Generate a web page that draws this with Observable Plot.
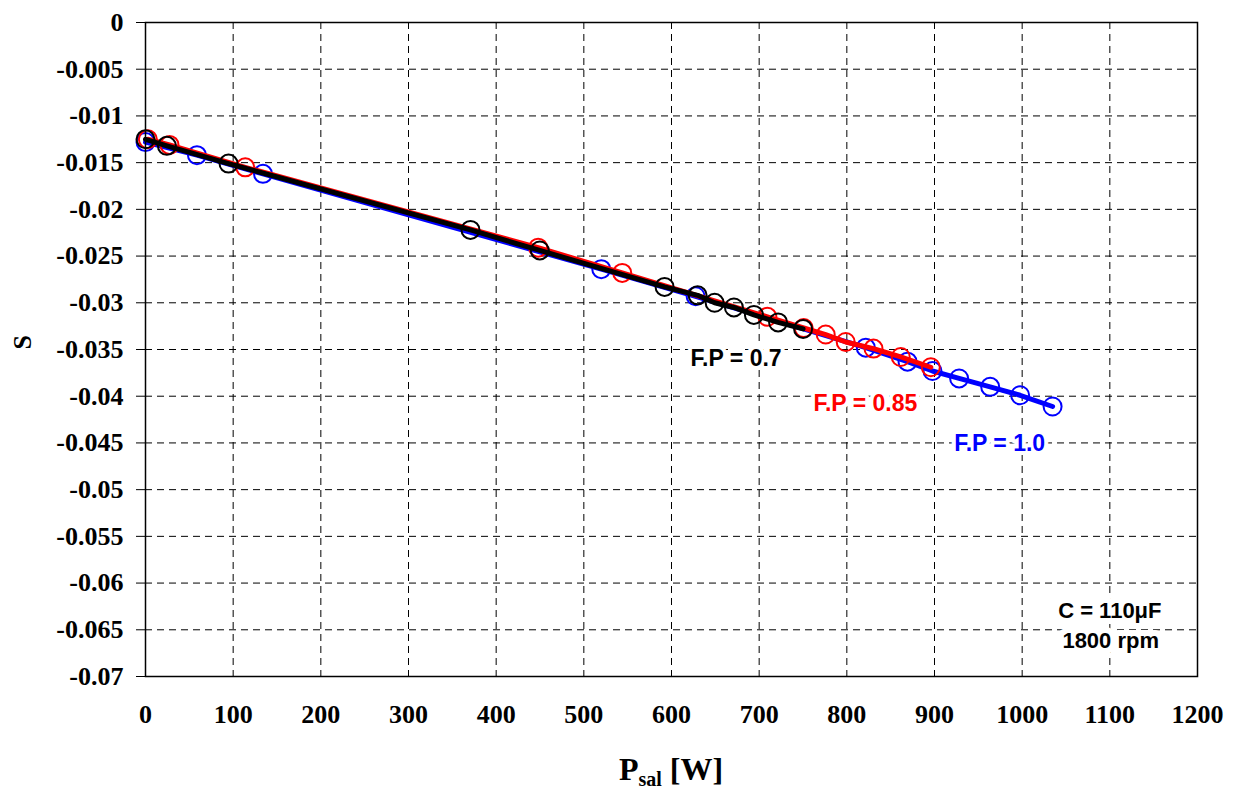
<!DOCTYPE html>
<html><head><meta charset="utf-8">
<script src="https://cdn.jsdelivr.net/npm/d3@7"></script>
<script src="https://cdn.jsdelivr.net/npm/@observablehq/plot@0.6"></script>
<style>
body{margin:0;background:#fff}
#chart svg{background:#fff;color:#000}
</style>
</head><body><div id="chart"></div>
<script>
// F.P = 1.0 (blue)
const pBlue = [0, 58.7, 134, 519.9, 627.5, 821.6, 869.2, 897.7, 928.1, 963.5, 997.7, 1034.7];
const sBlue = [-0.0128, -0.0142, -0.0162, -0.0264, -0.0293, -0.0348, -0.0363, -0.0373, -0.0381, -0.0390, -0.0399, -0.0411];
// F.P = 0.85 (red)
const pRed = [2.7, 27.4, 113.8, 447.9, 543.8, 709.4, 750.8, 775.9, 798.7, 830.4, 861.5, 895.8];
const sRed = [-0.0125, -0.0131, -0.0155, -0.0241, -0.0268, -0.0315, -0.0327, -0.0334, -0.0342, -0.0349, -0.0358, -0.0369];
// F.P = 0.7 (black)
const pBlack = [0, 24.4, 94.7, 370.7, 449.8, 592.1, 629.8, 649.2, 671.2, 694.0, 721.6, 750.1];
const sBlack = [-0.0125, -0.0132, -0.0151, -0.0222, -0.0244, -0.0283, -0.0292, -0.0300, -0.0305, -0.0313, -0.0321, -0.0328];

const seriesNames = ["F.P = 1.0", "F.P = 0.85", "F.P = 0.7"];
const seriesColors = ["#0000ff", "#ff0000", "#000000"];
const labelP = [922.4, 761.9, 621.8];
const labelS = [-0.0451, -0.0408, -0.0360];

const xTicks = [0, 100, 200, 300, 400, 500, 600, 700, 800, 900, 1000, 1100, 1200];
const yTicks = [0, -0.005, -0.01, -0.015, -0.02, -0.025, -0.03, -0.035, -0.04, -0.045, -0.05, -0.055, -0.06, -0.065, -0.07];
const noteLines = ["C = 110\u03bcF", "1800 rpm"];
const noteP = [1100, 1101];
const noteS = [-0.0630, -0.0662];
const yLabel = "S";

const mk = (ps, ss) => ps.map((p, i) => ({p, s: ss[i]}));
const series = [mk(pBlue, sBlue), mk(pRed, sRed), mk(pBlack, sBlack)];
const labels = seriesNames.map((n, i) => ({n, p: labelP[i], s: labelS[i], c: seriesColors[i]}));
const notes = noteLines.map((t, i) => ({t, p: noteP[i], s: noteS[i]}));

const dash = "7,5";
const yFmt = d => String(+d.toFixed(3));

const marks = [
  Plot.gridX(xTicks, {x: d => d, stroke: "#000", strokeOpacity: 1, strokeWidth: 1, strokeDasharray: dash}),
  Plot.gridY(yTicks, {y: d => d, stroke: "#000", strokeOpacity: 1, strokeWidth: 1, strokeDasharray: dash}),
  Plot.axisY(yTicks, {tickSize: 9, tickFormat: () => "", label: null, stroke: "#000"}),
  Plot.text(yTicks, {y: d => d, text: yFmt, frameAnchor: "left", dx: -22, textAnchor: "end",
    fontFamily: "Liberation Serif", fontSize: 26, fontWeight: "bold", fill: "#000"}),
  Plot.text(xTicks, {x: d => d, text: d => String(d), frameAnchor: "bottom", dy: 46,
    fontFamily: "Liberation Serif", fontSize: 26, fontWeight: "bold", fill: "#000"}),
  Plot.text([yLabel], {text: d => d, frameAnchor: "left", dx: -123, rotate: -90,
    fontFamily: "Liberation Serif", fontSize: 26, fontWeight: "bold", fill: "#000"}),
  Plot.text(labels, {x: "p", y: "s", text: "n", fill: "c", textAnchor: "start",
    fontFamily: "Liberation Sans", fontSize: 23, fontWeight: "bold",
    stroke: "white", strokeWidth: 8, paintOrder: "stroke"}),
  Plot.text(notes, {x: "p", y: "s", text: "t", fill: "#000", textAnchor: "middle",
    fontFamily: "Liberation Sans", fontSize: 22, fontWeight: "bold",
    stroke: "white", strokeWidth: 12, paintOrder: "stroke"})
];
series.forEach((d, i) => {
  marks.push(Plot.line(d, {x: "p", y: "s", stroke: seriesColors[i], strokeWidth: 5, curve: "linear"}));
  marks.push(Plot.dot(d, {x: "p", y: "s", r: 9, stroke: seriesColors[i], strokeWidth: 2, fill: "none"}));
});
marks.push(Plot.frame({stroke: "#000", strokeWidth: 1.5}));

const chart = Plot.plot({
  width: 1237, height: 791,
  marginLeft: 145, marginRight: 40, marginTop: 22, marginBottom: 115,
  x: {domain: [0, 1200], axis: null},
  y: {domain: [-0.07, 0]},
  marks
});
document.getElementById("chart").appendChild(chart);

// reinforce fonts directly on the text elements
const serifTexts = new Set([...yTicks.map(yFmt), ...xTicks.map(String), yLabel]);
chart.querySelectorAll("text").forEach(el => {
  const s = el.textContent;
  if (serifTexts.has(s)) {
    el.style.fontFamily = "'Liberation Serif', 'Times New Roman', serif";
    el.style.fontWeight = "bold";
  }
});

// x-axis title with subscript
const sx = chart.scale("x");
const cx = (sx.apply(0) + sx.apply(1200)) / 2;
const t = d3.select(chart).append("text")
  .attr("x", cx).attr("y", 780).attr("text-anchor", "middle").attr("fill", "#000")
  .style("font-family", "'Liberation Serif', 'Times New Roman', serif").style("font-weight", "bold").style("font-size", "32px");
t.append("tspan").text("P");
t.append("tspan").attr("dy", 6).style("font-size", "20px").text("sal");
t.append("tspan").attr("dy", -6).text(" [W]");
</script>
</body></html>
